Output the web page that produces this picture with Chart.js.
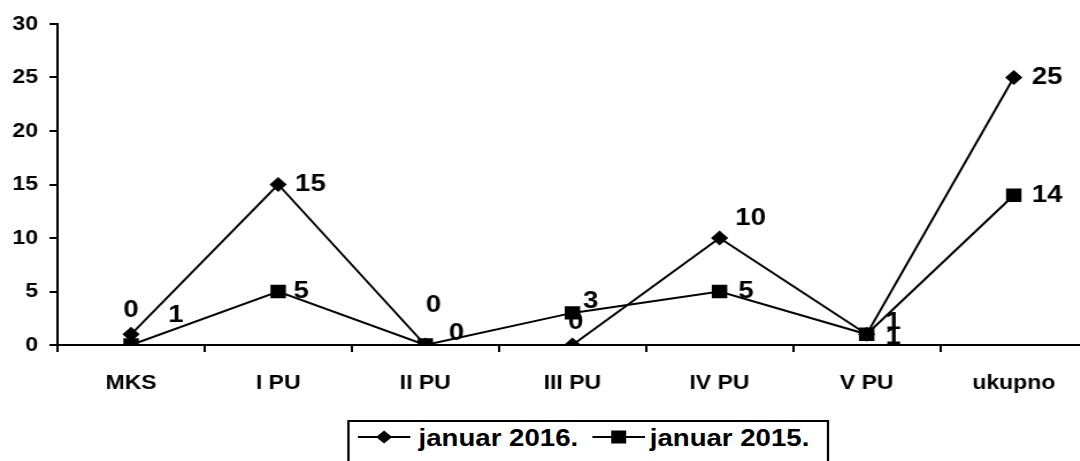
<!DOCTYPE html>
<html>
<head>
<meta charset="utf-8">
<script src="https://cdn.jsdelivr.net/npm/chart.js@4.4.1/dist/chart.umd.min.js"></script>
<style>
  html, body { margin: 0; padding: 0; background: #fff; width: 1080px; height: 461px; overflow: hidden; }
  #wrap { position: absolute; left: 0; top: 0; width: 960px; height: 461px; transform: scaleX(1.15); transform-origin: 0 0; }
  #legend { position: absolute; left: 302px; top: 420px; width: 419px; height: 60px; border: 2px solid #000; box-sizing: border-box; background: #fff;
            font-family: "Liberation Sans", Arial, sans-serif; font-weight: bold; font-size: 24px; color: #000; }
  #legend svg, #legend span { position: absolute; }
  #legend span { line-height: 24px; top: 4px; white-space: nowrap; }
</style>
</head>
<body>
<div id="wrap">
  <canvas id="myChart" width="955" height="400"></canvas>
  <div id="legend">
    <svg style="left:7px;top:5px" width="46" height="20"><line x1="0" y1="10" x2="46" y2="10" stroke="#000" stroke-width="2"/><polygon points="23,3.5 30,10 23,16.5 16,10" fill="#000"/></svg>
    <span style="left:60px">januar 2016.</span>
    <svg style="left:211px;top:5px" width="46" height="20"><line x1="0" y1="10" x2="46" y2="10" stroke="#000" stroke-width="2"/><rect x="16.5" y="3.5" width="13" height="13" fill="#000"/></svg>
    <span style="left:261px">januar 2015.</span>
  </div>
</div>
<script>
var categories = ['MKS', 'I PU', 'II PU', 'III PU', 'IV PU', 'V PU', 'ukupno'];
var jan2016 = [1, 15, 0, 0, 10, 1, 25];
var jan2015 = [0, 5, 0, 3, 5, 1, 14];
// value labels as they appear on the original chart
var labels2016 = ['0', '15', '0', '0', '10', '1', '25'];
var labels2015 = ['1', '5', '0', '3', '5', '1', '14'];
var yTicks = [0, 5, 10, 15, 20, 25, 30];

// where each value label sits relative to its marker
var nudge2016 = [[0, -24], [28, 0], [7, -40], [3, -23], [27, -20], [23, -12], [29, 0]];
var nudge2015 = [[39, -30], [20, 0], [27, -12], [16, -12], [23, 0], [23, 3], [29, 0]];

var FONT = '"Liberation Sans", Arial, sans-serif';

var valueLabels = {
    id: 'valueLabels',
    afterDatasetsDraw: function (chart) {
        var ctx = chart.ctx;
        ctx.save();
        ctx.font = 'bold 24px ' + FONT;
        ctx.fillStyle = '#000';
        ctx.textAlign = 'center';
        ctx.textBaseline = 'middle';
        chart.data.datasets.forEach(function (ds, i) {
            chart.getDatasetMeta(i).data.forEach(function (pt, j) {
                var off = ds.nudge[j];
                ctx.fillText(ds.texts[j], pt.x + off[0], pt.y + off[1]);
            });
        });
        ctx.restore();
    }
};

var chartdata = {
    labels: categories,
    datasets: [
        {
            label: 'januar 2016.',
            data: jan2016,
            texts: labels2016,
            nudge: nudge2016,
            borderColor: '#000',
            backgroundColor: '#000',
            borderWidth: 2,
            pointStyle: 'rectRot',
            pointRadius: 7.5,
            pointBorderWidth: 0,
            tension: 0
        },
        {
            label: 'januar 2015.',
            data: jan2015,
            texts: labels2015,
            nudge: nudge2015,
            borderColor: '#000',
            backgroundColor: '#000',
            borderWidth: 2,
            pointStyle: 'rect',
            pointRadius: 9.5,
            pointBorderWidth: 0,
            tension: 0
        }
    ]
};

var tickFont = { family: FONT, size: 20, weight: 'bold' };

var ctx = document.getElementById('myChart');
var lineGraph = new Chart(ctx, {
    type: 'line',
    data: chartdata,
    plugins: [valueLabels],
    options: {
        responsive: false,
        animation: false,
        devicePixelRatio: 1,
        layout: { padding: { top: 24, right: 8, bottom: 0, left: 0 } },
        plugins: { legend: { display: false }, tooltip: { enabled: false } },
        scales: {
            x: {
                offset: true,
                grid: { offset: true, drawOnChartArea: false, tickLength: 7, color: '#000', lineWidth: 2 },
                border: { color: '#000', width: 2 },
                ticks: { font: tickFont, color: '#000', padding: 19, maxRotation: 0, autoSkip: false },
                afterFit: function (s) { s.height = 55; }
            },
            y: {
                min: 0,
                max: 30,
                grid: { drawOnChartArea: false, tickLength: 7, color: '#000', lineWidth: 2 },
                border: { color: '#000', width: 2 },
                ticks: { font: tickFont, color: '#000', padding: 10, stepSize: 5 },
                afterBuildTicks: function (s) { s.ticks = yTicks.map(function (v) { return { value: v }; }); },
                afterFit: function (s) { s.width = 50; }
            }
        }
    }
});
</script>
</body>
</html>
